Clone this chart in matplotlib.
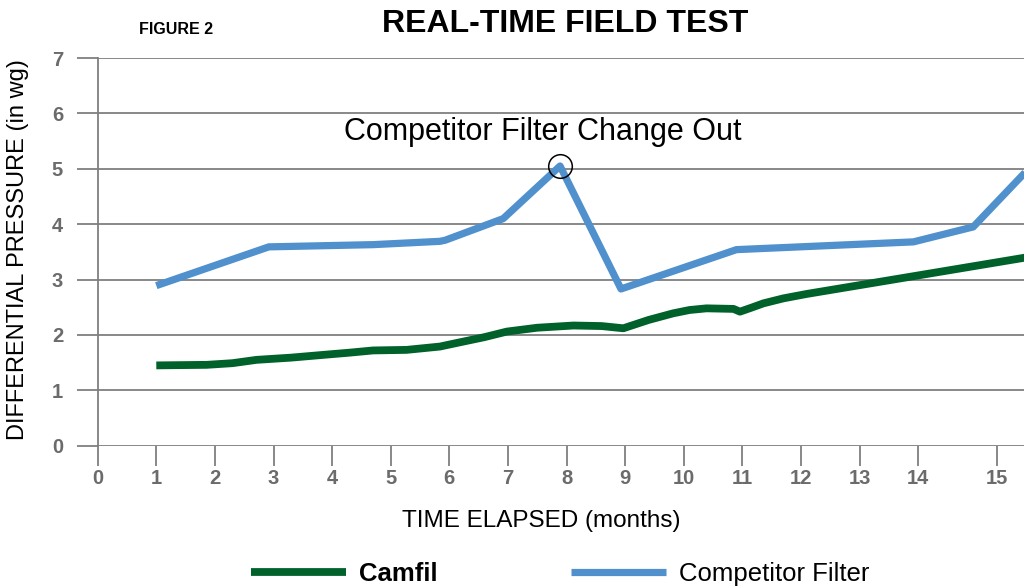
import matplotlib
matplotlib.use('Agg')
import matplotlib.pyplot as plt

plt.rcParams['font.family'] = ['Liberation Sans', 'DejaVu Sans']

# data
camfil_x = [1.0, 1.86, 2.3, 2.71, 3.3, 3.85, 4.3, 4.70, 5.27, 5.84, 6.15, 6.6, 6.98, 7.5, 8.12, 8.6, 8.97, 9.4, 9.82, 10.1, 10.39, 10.85, 10.96, 11.15, 11.36, 11.7, 12.1, 13.92, 15.85]
camfil_y = [1.45, 1.46, 1.49, 1.55, 1.59, 1.64, 1.68, 1.72, 1.73, 1.79, 1.86, 1.96, 2.06, 2.13, 2.17, 2.16, 2.12, 2.27, 2.39, 2.45, 2.48, 2.47, 2.42, 2.49, 2.57, 2.66, 2.74, 3.06, 3.40]
comp_x = [1.0, 2.92, 4.7, 5.84, 5.93, 6.92, 7.89, 8.93, 10.9, 13.92, 14.94, 15.85]
comp_y = [2.89, 3.59, 3.63, 3.69, 3.71, 4.10, 5.05, 2.83, 3.54, 3.68, 3.95, 4.96]
change_out = (7.89, 5.05)

x_ticks = [0, 1, 2, 3, 4, 5, 6, 7, 8, 9, 10, 11, 12, 13, 14, 15.35]
x_labels = ['0', '1', '2', '3', '4', '5', '6', '7', '8', '9', '10', '11', '12', '13', '14', '15']
y_ticks = [0, 1, 2, 3, 4, 5, 6, 7]

green = '#00612a'
blue = '#4f90cd'
grey = '#7f7f7f'
tick_grey = '#6b6b6b'

fig = plt.figure(figsize=(10.24, 5.88), dpi=100)
ax = fig.add_axes([97.7/1024, 142.3/588, (1024-97.7)/1024, (530-142.3)/588])

ax.plot(camfil_x, camfil_y, color=green, lw=5.6, solid_capstyle='butt', solid_joinstyle='round', label='Camfil', zorder=3)
ax.plot(comp_x, comp_y, color=blue, lw=5.2, solid_capstyle='butt', label='Competitor Filter', zorder=3)
ax.plot([change_out[0]], [change_out[1]], 'o', mfc='none', mec='black', ms=17, mew=1.1, zorder=4)
ax.text(7.6, 5.67, 'Competitor Filter Change Out', ha='center', va='center', fontsize=22)

ax.set_xlim(0, (1024-97.7)/58.6)
ax.set_ylim(0, 7)
ax.set_xticks(x_ticks)
ax.set_xticklabels(x_labels)
ax.set_yticks(y_ticks)
for y_val in y_ticks:
  ax.axhline(y=y_val, color=grey, lw=1.3, zorder=1)

for s in ['top', 'right', 'bottom']:
  ax.spines[s].set_visible(False)
ax.spines['left'].set_color(grey)
ax.spines['left'].set_linewidth(1.3)

ax.tick_params(axis='y', length=14.9, width=1.3, color=grey, pad=10, labelsize=14.5, labelcolor=tick_grey)
ax.tick_params(axis='x', length=14.5, width=1.3, color=grey, pad=2.5, labelsize=14.5, labelcolor=tick_grey)
for lab in ax.get_xticklabels() + ax.get_yticklabels():
  lab.set_fontweight('bold')

fig.text(565/1024, 1-24/588, 'REAL-TIME FIELD TEST', ha='center', va='center', fontsize=23, fontweight='bold')
fig.text(176/1024, 1-30/588, 'FIGURE 2', ha='center', va='center', fontsize=11.5, fontweight='bold')
fig.text(18/1024, 1-250/588, 'DIFFERENTIAL PRESSURE (in wg)', rotation=90, ha='center', va='center', fontsize=17)
fig.text(541/1024, 1-521/588, 'TIME ELAPSED (months)', ha='center', va='center', fontsize=17.5)

leg = fig.legend(loc='center', bbox_to_anchor=(560/1024, 14/588), ncol=2, frameon=False,
                 fontsize=18.5, handlelength=3.7, handletextpad=0.5, columnspacing=5.2)
leg.get_texts()[0].set_fontweight('bold')

fig.savefig('out.png', dpi=100)
